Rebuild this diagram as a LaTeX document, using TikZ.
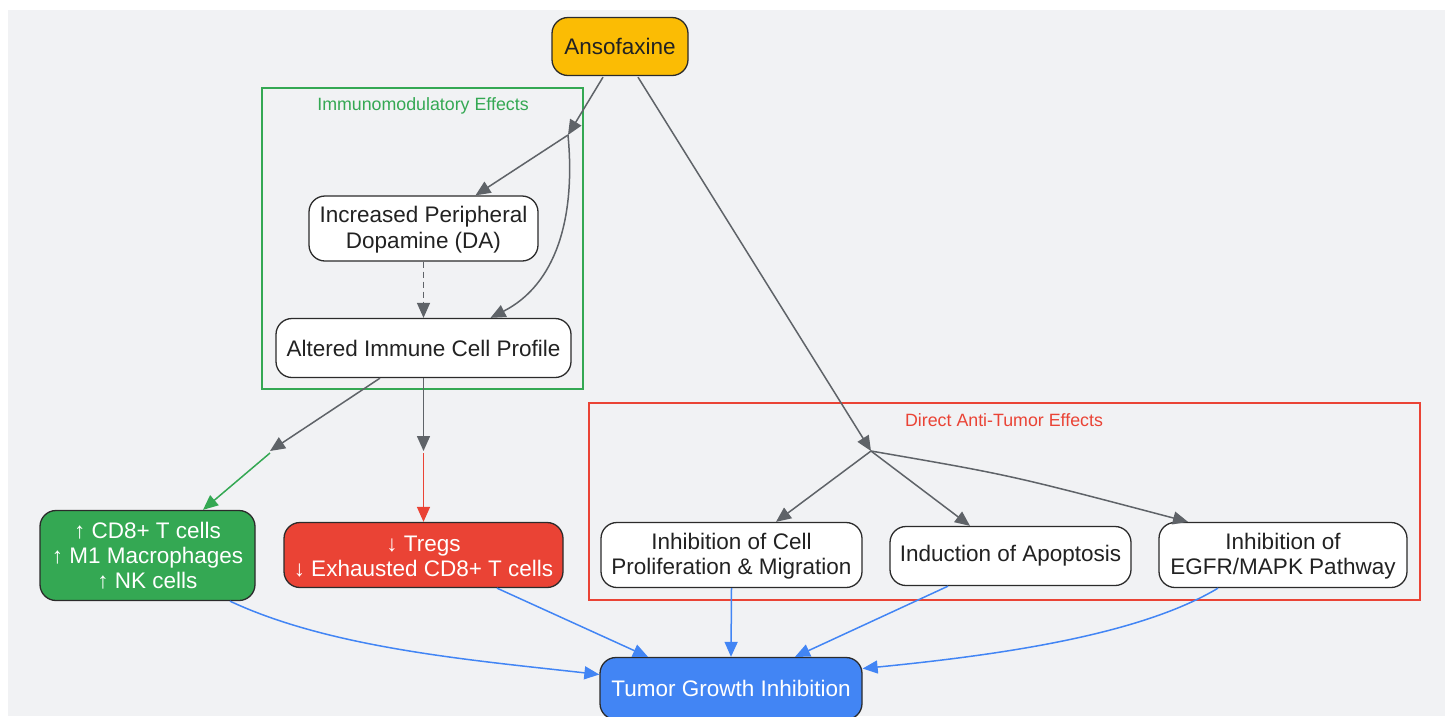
\documentclass[tikz,border=0pt]{standalone}
\usepackage{fontspec}
\setmainfont{Liberation Sans}
\usetikzlibrary{arrows.meta,calc}
\definecolor{bgc}{HTML}{F1F2F4}
\definecolor{gline}{HTML}{5F6368}
\definecolor{gyellow}{HTML}{FBBC04}
\definecolor{ggreen}{HTML}{34A853}
\definecolor{gred}{HTML}{EA4335}
\definecolor{gblue}{HTML}{4285F4}
\definecolor{nborder}{HTML}{2B2B2B}
\definecolor{txt}{HTML}{222222}
\tikzset{
  box/.style={draw=nborder, line width=1.3pt, rounded corners=16pt, align=center,
    font=\fontsize{22.5}{26}\selectfont, text=txt, fill=white, inner sep=0pt},
  conn/.style={draw=gline, line width=1.5pt, -{Triangle[length=15pt,width=13pt]}},
  gconn/.style={draw=ggreen, line width=1.5pt, -{Triangle[length=15pt,width=13pt]}},
  rconn/.style={draw=gred, line width=1.5pt, -{Triangle[length=15pt,width=13pt]}},
  bconn/.style={draw=gblue, line width=1.5pt, -{Triangle[length=15pt,width=13pt]}},
  cluster/.style={line width=1.3pt},
  clabel/.style={font=\fontsize{17.8}{20}\selectfont},
  two/.style={font=\fontsize{22.5}{25.5}\selectfont, text depth=-2pt},
}
\begin{document}
\begin{tikzpicture}[x=1pt,y=-1pt]
\useasboundingbox (0,0) rectangle (1445,716);
\fill[white] (0,0) rectangle (1445,716);
\fill[bgc] (8,10) rectangle (1445,716);

% clusters
\draw[cluster, draw=ggreen] (262,88) rectangle (583,389);
\node[clabel, text=ggreen] (lab1) at (423,106) {Immunomodulatory Effects};
\draw[cluster, draw=gred] (589,403) rectangle (1420,600);
\node[clabel, text=gred] (lab2) at (1004,420) {Direct Anti-Tumor Effects};

% nodes
\node[box, fill=gyellow, minimum width=136pt, minimum height=58pt] (anso) at (620,46.5) {Ansofaxine};
\node[box, minimum width=229pt, minimum height=65pt] (da) at (423.5,228.5) {\rule{0pt}{19pt}Increased Peripheral\\Dopamine (DA)};
\node[box, minimum width=295pt, minimum height=59pt] (alt) at (423.5,348) {Altered Immune Cell Profile};
\node[box, fill=ggreen, text=white, minimum width=215pt, minimum height=90pt, font=\fontsize{22.5}{25}\selectfont] (green) at (147.5,555.5) {↑ CD8+ T cells\\↑ M1 Macrophages\\↑ NK cells};
\node[box, fill=gred, text=white, minimum width=279pt, minimum height=65pt, font=\fontsize{22.5}{25}\selectfont] (red) at (423.5,555) {\rule{0pt}{19pt}↓ Tregs\\↓ Exhausted CD8+ T cells};
\node[box, minimum width=261pt, minimum height=65pt, font=\fontsize{22.5}{25}\selectfont] (prol) at (731.5,555) {\rule{0pt}{19pt}Inhibition of Cell\\Proliferation \& Migration};
\node[box, minimum width=241pt, minimum height=59pt] (apop) at (1010.5,556) {Induction of Apoptosis};
\node[box, minimum width=248pt, minimum height=65pt, font=\fontsize{22.5}{25}\selectfont] (egfr) at (1283,555) {\rule{0pt}{19pt}Inhibition of\\EGFR/MAPK Pathway};
\node[box, fill=gblue, text=white, minimum width=262pt, minimum height=62pt] (tgi) at (731,688.5) {Tumor Growth Inhibition};

% junctions
\coordinate (j1) at (568,135);
\coordinate (j2) at (871,451);
\coordinate (j3) at (270,451);
\coordinate (j4) at (423.5,451);

% grey connectors
\draw[conn] ($(anso.south)+(-17,1)$) -- (j1);
\draw[conn] (j1) -- ($(da.north)+(52,0)$);
\draw[conn] (j1) .. controls (576,220) and (555,285) .. ($(alt.north)+(67,0)$);
\draw[conn, dashed, dash pattern=on 6pt off 4pt] (da.south) -- (alt.north);
\draw[conn] ($(anso.south)+(18,1)$) -- (j2);
\draw[conn] (j2) -- ($(prol.north)+(44.5,0)$);
\draw[conn] (j2) -- ($(apop.north)+(-40.5,0)$);
\draw[conn] (j2) .. controls (1010,475) .. ($(egfr.north)+(-95,0)$);
\draw[conn] ($(alt.south)+(-43.5,0)$) -- (j3);
\draw[conn] (alt.south) -- (j4);
\draw[gconn] ($(j3)+(0,2)$) -- ($(green.north)+(55.5,0)$);
\draw[rconn] ($(j4)+(0,2)$) -- (red.north);

% blue connectors
\draw[bconn] ($(green.south)+(82.5,0)$) .. controls (330,648) and (470,660) .. ($(tgi.west)+(0,-14)$);
\draw[bconn] ($(red.south)+(73.5,0)$) -- ($(tgi.north)+(-83,0)$);
\draw[bconn] (prol.south) -- (tgi.north);
\draw[bconn] ($(apop.south)+(-62.5,0)$) -- ($(tgi.north)+(64,0)$);
\draw[bconn] ($(egfr.south)+(-65,0)$) .. controls (1140,635) and (1000,655) .. ($(tgi.east)+(0,-20)$);
\end{tikzpicture}
\end{document}
